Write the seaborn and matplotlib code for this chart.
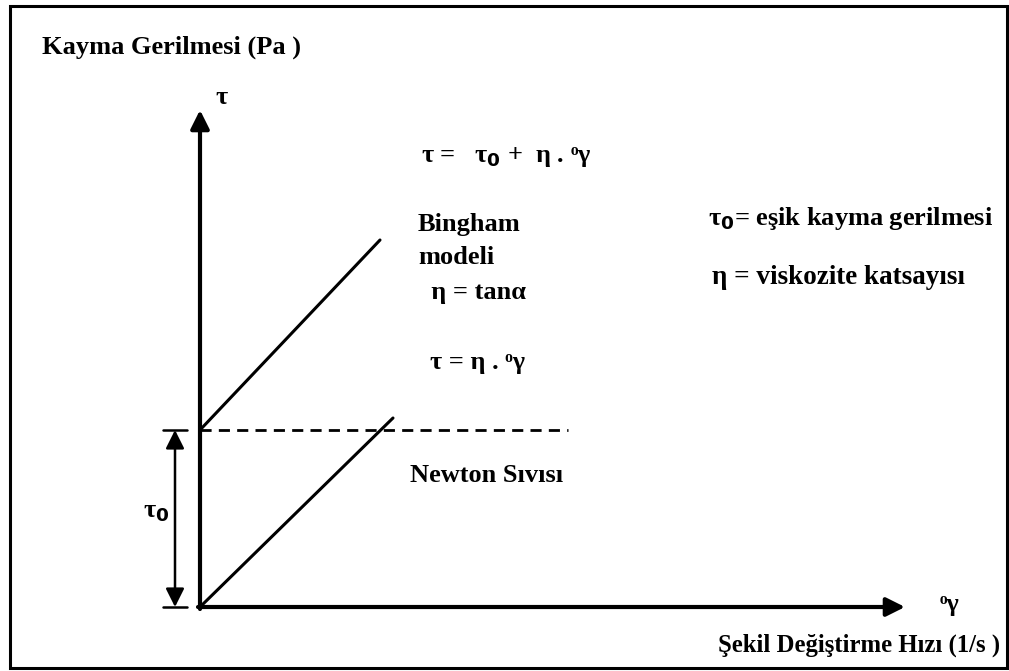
"""Bingham vs Newton flow curve sketch"""

import matplotlib
matplotlib.use("Agg")
import matplotlib.pyplot as plt
import pandas as pd
import seaborn as sns

# schematic values (shear rate vs shear stress, arbitrary units)
tau0 = 177
bingham_rate = [0, 180]
bingham_stress = [177, 367]
newton_rate = [0, 193]
newton_stress = [0, 189]
yield_rate = [0, 368]
yield_stress = [177, 177]
rate_axis_end = 705
stress_axis_end = 497

sns.set_theme(style="white")
plt.rcParams["font.family"] = ["Liberation Serif", "DejaVu Sans"]
plt.rcParams["font.weight"] = "bold"
plt.rcParams["mathtext.fontset"] = "dejavusans"

fig = plt.figure(figsize=(10.09, 6.71), dpi=100)
ax = fig.add_axes([0, 0, 1, 1])
ax.set_xlim(-200, 809)
ax.set_ylim(-64, 607)
ax.axis("off")

# outer frame
ax.add_patch(plt.Rectangle((-190, -61), 997, 662, fill=False, lw=2.2, color="black"))

# axes with arrows
arrow = dict(arrowstyle="-|>", color="black", lw=3, mutation_scale=28, shrinkA=0, shrinkB=0)
ax.annotate("", xy=(0, stress_axis_end), xytext=(0, -2), arrowprops=arrow)
ax.annotate("", xy=(rate_axis_end, 0), xytext=(-2, 0), arrowprops=arrow)

df = pd.DataFrame({
    "rate": bingham_rate + newton_rate,
    "stress": bingham_stress + newton_stress,
    "model": ["Bingham"] * 2 + ["Newton"] * 2,
})
sns.lineplot(data=df, x="rate", y="stress", units="model", estimator=None,
             color="black", lw=2.2, ax=ax, legend=False)
sns.lineplot(x=yield_rate, y=yield_stress, color="black", lw=2.0,
             ax=ax).lines[-1].set_dashes([4, 2.6])

# tau0 dimension marker
ax.annotate("", xy=(-25, tau0), xytext=(-25, 0),
            arrowprops=dict(arrowstyle="<|-|>", color="black", lw=1.8,
                            mutation_scale=28, shrinkA=0, shrinkB=0))
ax.plot([-37, -13], [tau0, tau0], color="black", lw=1.8)
ax.plot([-37, -13], [0, 0], color="black", lw=1.8)

T0 = r"τ$_\mathbf{0}$"
fs = 19
kw = dict(fontweight="bold", color="black", va="center")
ax.text(-158, 560, "Kayma Gerilmesi (Pa )", ha="left", fontsize=fs, **kw)
ax.text(15, 510, "τ", ha="left", fontsize=fs, **kw)
ax.text(221, 450, "τ =   " + T0 + " +  η . ᵒγ", ha="left", fontsize=fs, **kw)
ax.text(218, 382, "Bingham", ha="left", fontsize=fs, **kw)
ax.text(218, 349, "modeli", ha="left", fontsize=fs, **kw)
ax.text(218, 315, "  η = tanα", ha="left", fontsize=fs, **kw)
ax.text(230, 245, "τ = η . ᵒγ", ha="left", fontsize=fs, **kw)
ax.text(210, 132, "Newton Sıvısı", ha="left", fontsize=fs, **kw)
ax.text(508, 389, T0 + "= eşik kayma gerilmesi", ha="left", fontsize=fs, **kw)
ax.text(512, 329, "η = viskozite katsayısı", ha="left", fontsize=19.5, **kw)
ax.text(-57, 95, T0, ha="left", fontsize=fs, **kw)
ax.text(740, 2, "ᵒγ", ha="left", fontsize=fs, **kw)
ax.text(800, -38, "Şekil Değiştirme Hızı (1/s )", ha="right", fontsize=17.8, **kw)

fig.savefig("out.png", dpi=100)
